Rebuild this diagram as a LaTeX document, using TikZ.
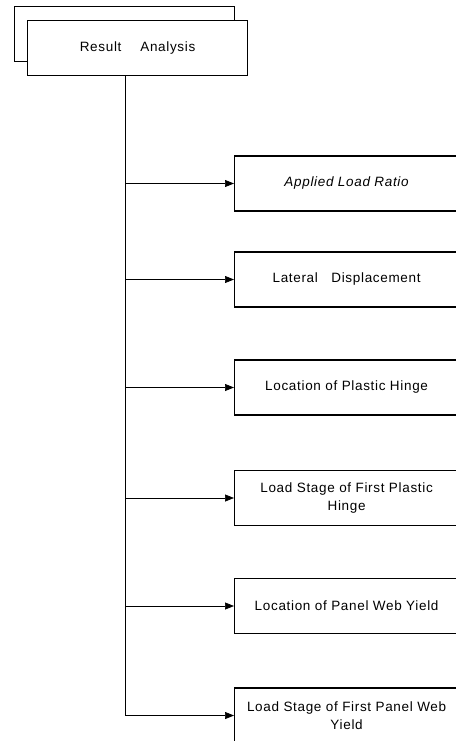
\documentclass[tikz,border=0pt]{standalone}
\usepackage{fontspec}
\setmainfont[LetterSpace=5]{Liberation Sans}
\usetikzlibrary{arrows.meta}
\tikzset{
  boxline/.style={draw=black, line width=1.2pt},
  topbox/.style={boxline, fill=white, rectangle, anchor=north west, minimum width=220pt, minimum height=55pt, inner sep=0pt},
  rbox/.style={boxline, fill=white, rectangle, anchor=west, minimum width=224pt, minimum height=55pt, inner sep=0pt, align=center, font=\fontsize{13.5pt}{17.5pt}\selectfont},
  conn/.style={draw=black, line width=0.7pt},
  arr/.style={conn, -{Triangle[length=9pt,width=7pt]}}
}
\begin{document}
\begin{tikzpicture}[x=1pt,y=-1pt]
\useasboundingbox (0,0) rectangle (455,741);
\node[topbox] (back) at (14,6) {};
\node[topbox, font=\fontsize{13.5pt}{16pt}\selectfont] (front) at (27,20) {Result\hspace{1.4em}Analysis};
\node[rbox] (b1) at (234,183.5) {\itshape Applied Load Ratio};
\node[rbox] (b2) at (234,279.5) {Lateral\hspace{1em}Displacement};
\node[rbox] (b3) at (234,387.5) {Location of Plastic Hinge};
\node[rbox] (b4) at (234,498) {Load Stage of First Plastic\\Hinge};
\node[rbox] (b5) at (234,606) {Location of Panel Web Yield};
\node[rbox] (b6) at (234,715.5) {Load Stage of First Panel Web\\Yield};
\coordinate (bot) at (125,716);
\draw[conn] (front.south -| bot) -- (bot);
\foreach \b in {b1,b2,b3,b4,b5,b6}{
  \draw[arr] (\b.west -| bot) -- (\b.west);
}
\end{tikzpicture}
\end{document}
